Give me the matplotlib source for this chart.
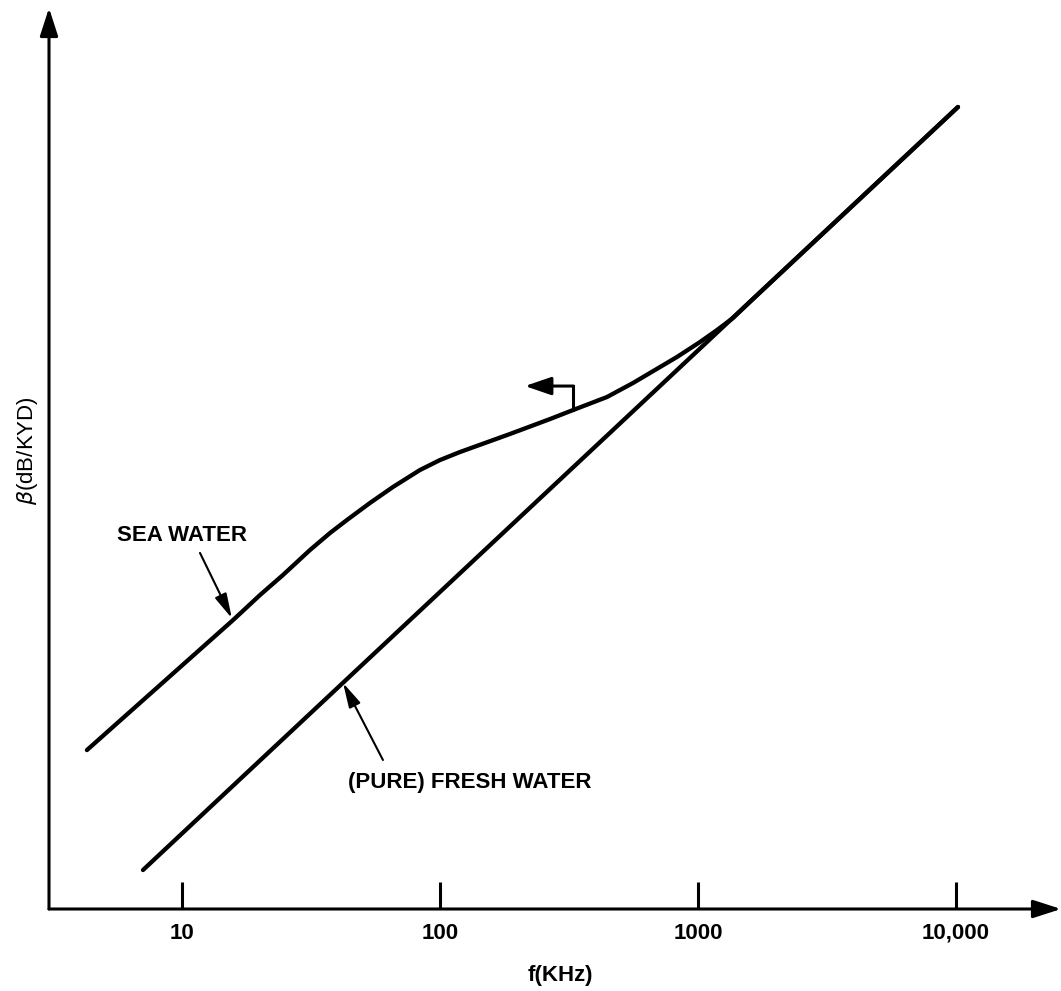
import matplotlib.pyplot as plt
import numpy as np

plt.rcParams['font.family'] = ['Liberation Sans', 'DejaVu Sans']

# values (f in kHz, beta in arbitrary units, log-log)
sea_f = [4.28, 8.22, 15.8, 20.06, 24.63, 31.34, 37.47, 43.6, 53.5, 65.7, 83.6, 100,
         119.5, 186.7, 267, 328, 444, 560, 829, 1018, 1185, 1367, 1600, 10180]
sea_b = [0.0413, 0.0738, 0.132, 0.1648, 0.1971, 0.2463, 0.2867, 0.322, 0.3747, 0.4321,
         0.5029, 0.5498, 0.5905, 0.6936, 0.7926, 0.859, 0.9649, 1.0934, 1.379, 1.576,
         1.754, 1.953, 2.27, 12.84]
fresh_f = [7.06, 10180]
fresh_b = [0.01416, 12.84]

tick_f = [10, 100, 1000, 10000]
tick_lbl = ['10', '100', '1000', '10,000']

fig = plt.figure(figsize=(10.61, 9.91), dpi=100)
ax = fig.add_axes([0.04618, 0.08274, 0.95382, 0.90918])
ax.set_xscale('log')
ax.set_yscale('log')
ax.set_xlim(3.051, 25530)
ax.set_ylim(0.01, 31.06)

for s in ax.spines.values():
    s.set_visible(False)

# axes with arrow heads
arrow_axis = dict(arrowstyle='-|>,head_length=1.7,head_width=0.55', lw=2.2,
                  color='black', shrinkA=0, shrinkB=0, mutation_scale=10)
ax.annotate('', xy=(1, 0), xytext=(0, 0), xycoords='axes fraction',
            arrowprops=arrow_axis)
ax.annotate('', xy=(0, 1), xytext=(0, 0), xycoords='axes fraction',
            arrowprops=arrow_axis)

ax.set_xticks(tick_f)
ax.set_xticklabels(tick_lbl, fontsize=16, fontweight='bold')
ax.xaxis.set_minor_locator(plt.NullLocator())
ax.tick_params(axis='x', direction='in', length=19.5, width=2.2, pad=10)
ax.tick_params(axis='y', which='both', left=False, labelleft=False)
ax.yaxis.set_minor_locator(plt.NullLocator())

ax.plot(sea_f, sea_b, '-', color='black', lw=3.1, solid_capstyle='round',
        solid_joinstyle='round')
ax.plot(fresh_f, fresh_b, '-', color='black', lw=3.1, solid_capstyle='round')

thin = dict(arrowstyle='-|>,head_length=1.5,head_width=0.38', lw=1.5,
            color='black', shrinkA=0, shrinkB=0, mutation_scale=10)

ax.text(10, 0.2815, 'SEA WATER', fontsize=16, fontweight='bold',
        ha='center', va='center')
ax.annotate('', xy=(15.6, 0.134), xytext=(11.74, 0.240), arrowprops=thin)

ax.text(44.0, 0.0308, '(PURE) FRESH WATER', fontsize=16, fontweight='bold',
        ha='left', va='center')
ax.annotate('', xy=(42.1, 0.0752), xytext=(60.1, 0.0378), arrowprops=thin)

# little bent arrow pointing to the left axis
ax.plot([327.7, 327.7], [0.8592, 1.064], '-', color='black', lw=2.2)
ax.annotate('', xy=(213.5, 1.064), xytext=(329, 1.064),
            arrowprops=dict(arrowstyle='-|>,head_length=1.6,head_width=0.55',
                            lw=2.2, color='black', shrinkA=0, shrinkB=0,
                            mutation_scale=10))

fig.text(560 / 1061, 1 - 975 / 991, 'f(KHz)', fontsize=16, fontweight='bold',
         ha='center', va='center')
fig.text(28 / 1061, 1 - 451 / 991, r'$\beta$(dB/KYD)', fontsize=16,
         rotation=90, ha='center', va='center')

fig.savefig('out.png', dpi=100)
